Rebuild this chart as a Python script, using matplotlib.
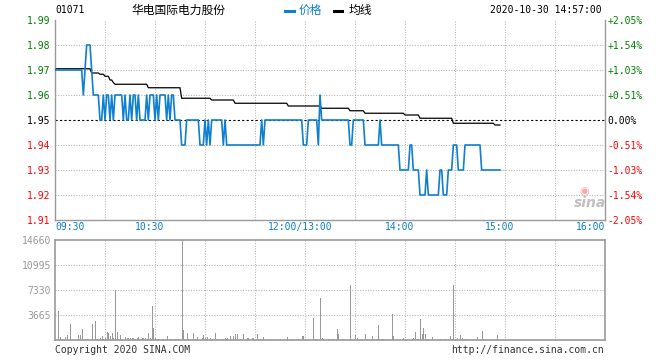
import numpy as np
import matplotlib
matplotlib.use("Agg")
import matplotlib.pyplot as plt

# minute index: 0 = 09:30, 150 = 12:00/13:00, 330 = 16:00 (lunch removed)
PREV_CLOSE = 1.95
VOL_MAX = 14660

time_ticks = [0, 60, 150, 210, 270, 330]
time_labels = ["09:30", "10:30", "12:00/13:00", "14:00", "15:00", "16:00"]
price_ticks = [1.91, 1.92, 1.93, 1.94, 1.95, 1.96, 1.97, 1.98, 1.99]
pct_labels = ["-2.05%", "-1.54%", "-1.03%", "-0.51%", "0.00%",
              "+0.51%", "+1.03%", "+1.54%", "+2.05%"]
vol_ticks = [3665, 7330, 10995, 14660]

# price per minute, run-length (level, minutes)
price_levels = [1.97, 1.96, 1.97, 1.98, 1.97, 1.96,
                1.95, 1.96, 1.95, 1.96, 1.95, 1.96, 1.95, 1.96, 1.95, 1.96,
                1.95, 1.96, 1.95, 1.96, 1.95, 1.96, 1.95, 1.96, 1.95, 1.96,
                1.95, 1.96, 1.95, 1.96, 1.95, 1.96, 1.95, 1.96,
                1.95, 1.94, 1.95, 1.94, 1.95, 1.94, 1.95, 1.94, 1.95, 1.94,
                1.95, 1.94, 1.95, 1.94, 1.95, 1.94, 1.95, 1.94, 1.96, 1.95,
                1.94, 1.95, 1.94, 1.95, 1.94, 1.93, 1.94, 1.93, 1.92, 1.93,
                1.92, 1.93, 1.92, 1.93, 1.94, 1.93, 1.94, 1.93]
price_runs = [17, 1, 1, 3, 1, 4,
              2, 1, 1, 2, 1, 1, 1, 5, 1, 1,
              2, 1, 1, 2, 1, 1, 4, 1, 1, 3,
              1, 1, 1, 4, 1, 1, 1, 2,
              4, 3, 8, 3, 1, 1, 1, 1, 7, 1,
              1, 21, 1, 1, 23, 3, 6, 1, 1, 17,
              2, 7, 9, 1, 11, 6, 2, 4, 4, 1,
              7, 2, 3, 3, 3, 4, 10, 12]

avg_levels = [1.9700, 1.9705, 1.9688, 1.9683, 1.9675, 1.9660, 1.9650, 1.9643,
              1.9629, 1.9587, 1.9580, 1.9567, 1.9556, 1.9547, 1.9537, 1.9527,
              1.9520, 1.9507, 1.9487, 1.9480]
avg_runs = [1, 21, 5, 3, 3, 2, 1, 20, 20, 18, 14, 32, 20, 17, 9, 24, 9, 20, 25, 4]

vol_minutes = [2, 3, 4, 6, 7, 9, 14, 15, 16, 18, 19, 22, 24, 25, 27, 28, 29, 30,
               31, 32, 33, 34, 35, 36, 37, 39, 40, 42, 43, 44, 45, 46, 47, 48,
               49, 50, 51, 52, 53, 54, 55, 56, 57, 58, 59, 60, 61, 62, 64, 65,
               67, 69, 70, 72, 74, 76, 77, 79, 80, 83, 84, 85, 88, 89, 90, 91,
               93, 94, 96, 97, 100, 102, 103, 105, 107, 108, 109, 111, 113, 115,
               116, 118, 119, 121, 123, 125, 129, 135, 137, 139, 142, 146, 148,
               149, 150, 152, 155, 156, 159, 160, 161, 164, 166, 169, 170, 173,
               177, 180, 181, 184, 186, 187, 190, 193, 194, 196, 197, 202, 203,
               208, 209, 211, 214, 215, 216, 217, 218, 219, 220, 221, 222, 223,
               224, 226, 230, 231, 233, 234, 237, 238, 239, 240, 241, 243, 244,
               246, 247, 251, 253, 256, 257, 259, 261, 265]
vol_values = [4250, 490, 150, 440, 730, 2350, 730, 730, 1610, 150, 150, 2350,
              2790, 150, 250, 590, 150, 250, 1120, 1030, 640, 1030, 340, 7330,
              1220, 730, 100, 440, 250, 340, 250, 340, 250, 150, 250, 440, 150,
              250, 340, 340, 150, 1075, 250, 5030, 1710, 250, 150, 150, 150, 150,
              590, 150, 150, 150, 150, 14660, 1470, 1075, 150, 1075, 150, 490,
              250, 730, 250, 440, 250, 150, 1075, 150, 150, 340, 250, 590, 590,
              880, 880, 150, 880, 250, 250, 250, 250, 830, 150, 490, 150, 150,
              150, 490, 150, 150, 590, 590, 150, 150, 3270, 150, 6110, 250, 150,
              150, 150, 1610, 880, 150, 8060, 730, 250, 150, 880, 150, 590, 150,
              2200, 150, 150, 3810, 590, 150, 250, 150, 200, 250, 1220, 150, 150,
              3080, 880, 1810, 880, 150, 150, 440, 150, 150, 150, 150, 590, 150,
              8060, 150, 250, 730, 250, 150, 150, 150, 440, 1320, 200, 150, 150,
              730]

price = np.repeat(price_levels, price_runs)
avg = np.repeat(avg_levels, avg_runs)
minutes = np.arange(len(price))

BLUE = "#0f7fcf"
GRID = "#b4b4b4"
MONO = "DejaVu Sans Mono"
CJK = ["Noto Sans CJK SC", "DejaVu Sans"]
W, H = 660, 360

def fx(x):
    return x / W

def fy(y):
    return 1 - y / H

def colour_for(p):
    if p == PREV_CLOSE:
        return "black"
    return "#008000" if p > PREV_CLOSE else "#ff0000"

fig = plt.figure(figsize=(6.6, 3.6), dpi=100)
fig.patch.set_facecolor("white")

# ---- price panel
ax = fig.add_axes([fx(55), fy(220), 550 / W, 200 / H])
ax.set_xlim(0, 330)
ax.set_ylim(1.91, 1.99)
for t in range(30, 330, 30):
    ax.axvline(t, color=GRID, lw=0.75, ls=(0, (1, 1.5)), zorder=1)
for p in price_ticks[1:-1]:
    if p != PREV_CLOSE:
        ax.axhline(p, color=GRID, lw=0.75, ls=(0, (1, 1.5)), zorder=1)
ax.axhline(PREV_CLOSE, color="black", lw=0.8, ls=(0, (2, 2)), zorder=2)
ax.plot(minutes, avg, color="black", lw=0.9, zorder=3)
ax.plot(minutes, price, color=BLUE, lw=1.2, zorder=4)

ax.spines["top"].set_visible(False)
for s in ["left", "bottom", "right"]:
    ax.spines[s].set_color("#999999")
    ax.spines[s].set_linewidth(1.0)

ax.set_yticks(price_ticks)
ax.set_yticklabels([f"{p:.2f}" for p in price_ticks], fontfamily=MONO, fontsize=7)
ax.tick_params(axis="y", length=0, pad=3)
for lab, p in zip(ax.get_yticklabels(), price_ticks):
    lab.set_color(colour_for(p))

ax.set_xticks([])
for t, lab in zip(time_ticks, time_labels):
    ha = "left" if t == 0 else ("right" if t == 330 else "center")
    xx = t if t in (0, 330) else t - 3
    ax.text(xx, 1.91 - 0.0028, lab, ha=ha, va="center", fontfamily=MONO,
            fontsize=7, color="#0a7fcc", clip_on=False)

ax2 = ax.twinx()
ax2.set_ylim(1.91, 1.99)
ax2.set_yticks(price_ticks)
ax2.set_yticklabels(pct_labels, fontfamily=MONO, fontsize=7)
ax2.tick_params(axis="y", length=0, pad=2)
for s in ax2.spines.values():
    s.set_visible(False)
for lab, p in zip(ax2.get_yticklabels(), price_ticks):
    lab.set_color(colour_for(p))

# sina watermark
fig.text(fx(590), fy(203), "sina", fontsize=10, fontweight="bold", style="italic",
         color="#c0c0c0", ha="center", va="center")
fig.text(fx(584), fy(191), "\u25c9", fontsize=8, color="#f4a8a8", ha="center", va="center")

# ---- volume panel
axv = fig.add_axes([fx(55), fy(340), 550 / W, 100 / H])
axv.set_xlim(0, 330)
axv.set_ylim(0, VOL_MAX)
for t in range(30, 330, 30):
    axv.axvline(t, color=GRID, lw=0.75, ls=(0, (1, 1.5)), zorder=1)
for v in vol_ticks[:-1]:
    axv.axhline(v, color=GRID, lw=0.75, ls=(0, (1, 1.5)), zorder=1)
vol = np.zeros(len(price))
vol[vol_minutes] = vol_values
axv.vlines(minutes, 0, vol, color="#999999", lw=0.72, antialiased=False, zorder=2)
for s in axv.spines.values():
    s.set_color("#999999")
    s.set_linewidth(1.2)
axv.set_xticks([])
axv.set_yticks(vol_ticks)
axv.set_yticklabels([str(v) for v in vol_ticks], fontfamily=MONO, fontsize=7,
                    color="#999999")
axv.tick_params(axis="y", length=0, pad=3)

# ---- header & footer
fig.text(fx(55), fy(10), "01071", fontfamily=MONO, fontsize=7, va="center")
fig.text(fx(178), fy(10), "华电国际电力股份", fontfamily=CJK,
         fontsize=8.5, ha="center", va="center")
fig.lines.append(plt.Line2D([fx(285), fx(294)], [fy(11), fy(11)], color=BLUE, lw=2.2,
                            transform=fig.transFigure))
fig.text(fx(299), fy(10), "价格", fontfamily=CJK, fontsize=8.5, color=BLUE, va="center")
fig.lines.append(plt.Line2D([fx(334), fx(342)], [fy(11), fy(11)], color="black", lw=2.2,
                            transform=fig.transFigure))
fig.text(fx(349), fy(10), "均线", fontfamily=CJK, fontsize=8.5, va="center")
fig.text(fx(602), fy(10), "2020-10-30 14:57:00", fontfamily=MONO, fontsize=7,
         ha="right", va="center")
fig.text(fx(55), fy(350), "Copyright 2020 SINA.COM", fontfamily=MONO, fontsize=7,
         color="#333333", va="center")
fig.text(fx(604), fy(350), "http://finance.sina.com.cn", fontfamily=MONO, fontsize=7,
         color="#333333", ha="right", va="center")

fig.savefig("out.png", dpi=100)
